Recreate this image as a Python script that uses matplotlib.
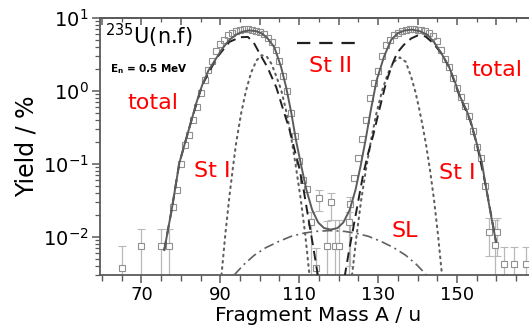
import matplotlib
matplotlib.use("Agg")
import matplotlib.pyplot as plt
from matplotlib.ticker import FixedLocator, MultipleLocator, LogLocator, NullFormatter
from matplotlib.lines import Line2D

# measured yields (mass A, yield in %)
data_mass = [78, 79, 80, 81, 82, 83, 84, 85, 86, 87, 88, 89, 90, 91, 92, 93, 94, 95,
             96, 97, 98, 99, 100, 101, 102, 103, 104, 105, 106, 107, 108, 109, 110,
             111, 112, 124, 125, 126, 127, 128, 129, 130, 131, 132, 133, 134, 135,
             136, 137, 138, 139, 140, 141, 142, 143, 144, 145, 146, 147, 148, 149,
             150, 151, 152, 153, 154, 155, 156, 157]
data_yield = [0.026, 0.044, 0.10, 0.18, 0.25, 0.40, 0.60, 0.95, 1.4, 1.95, 2.6, 3.5,
              4.4, 5.0, 5.8, 6.3, 6.6, 6.9, 7.0, 7.1, 6.9, 6.7, 6.4, 6.0, 5.4, 4.7,
              3.6, 2.6, 1.6, 1.0, 0.5, 0.24, 0.11, 0.06, 0.045, 0.065, 0.12, 0.22,
              0.40, 0.80, 1.3, 1.9, 3.0, 4.2, 5.0, 5.8, 6.3, 6.6, 6.8, 7.0, 7.0, 6.9,
              6.8, 6.6, 6.3, 5.6, 4.8, 3.6, 2.7, 2.1, 1.5, 1.1, 0.83, 0.62, 0.45,
              0.28, 0.17, 0.12, 0.05]

# low-yield points with their error bars (upper / lower bound in %)
low_mass = [65, 70, 75, 77, 113, 114.3, 115, 117, 118, 119, 120, 122.5, 123,
            158, 159.6, 160.2, 162, 164.5, 167.5]
low_yield = [0.0038, 0.0076, 0.0076, 0.0076, 0.016, 0.0038, 0.034, 0.0076, 0.030,
             0.0076, 0.0076, 0.016, 0.028, 0.0118, 0.0078, 0.0118, 0.0042, 0.0042,
             0.0042]
low_upper = [0.0076, 0.0129, 0.0129, 0.0129, 0.022, 0.007, 0.044, 0.0165, 0.040,
             0.017, 0.017, 0.022, 0.035, 0.018, 0.017, 0.018, 0.0072, 0.0072, 0.0072]
low_lower = [0.001, 0.001, 0.001, 0.001, 0.001, 0.001, 0.023, 0.001, 0.017,
             0.001, 0.001, 0.001, 0.004, 0.0054, 0.001, 0.0054, 0.001, 0.001, 0.001]

# fitted curves
total_mass = [75.8, 77.8, 79.6, 80.9, 82.7, 84, 85.4, 87, 89, 90.5, 92.3, 94, 95.5,
              97.3, 99, 100.5, 102, 103.7, 105.4, 106.7, 108, 109.2, 110.5, 111.8,
              113.3, 114.8, 116.3, 118, 119.7, 121.2, 122.8, 124.3, 125.6, 126.8,
              128.1, 129.6, 131.5, 133.3, 135, 136.8, 138.6, 140.5, 142.5, 144.3,
              146, 148, 149.5, 150.8, 152.3, 153.5, 155, 156.3, 157.3, 158.6, 159.9]
total_yield = [0.0066, 0.0257, 0.102, 0.182, 0.398, 0.708, 1.20, 1.91, 2.82, 3.80,
               5.01, 5.89, 6.46, 6.76, 6.61, 6.17, 5.25, 3.98, 2.14, 1.12, 0.50,
               0.209, 0.0955, 0.0447, 0.0234, 0.0158, 0.0132, 0.0126, 0.0132, 0.0158,
               0.0234, 0.0447, 0.0955, 0.209, 0.525, 1.38, 2.95, 5.01, 6.17, 6.76,
               6.92, 6.61, 5.89, 4.57, 3.31, 2.14, 1.32, 0.832, 0.562, 0.380, 0.191,
               0.105, 0.0501, 0.020, 0.0085]

st2_mass = [75.8, 77.8, 79.6, 82.7, 85.4, 89, 92.3, 95, 97, 98.5, 99.9, 101.9, 104.2,
            106.2, 107.5, 108.7, 110, 111.2, 112.5, 113.6, 114.8, None,
            121.5, 122.6, 123.8, 125, 126.2, 127.5, 128.7, 130.3, 132, 133.5, 134.8,
            136.5, 138.4, 140, 142, 144, 146, 148, 150.5, 153.3, 155, 157.3, 159.9]
st2_yield = [0.0066, 0.0257, 0.102, 0.398, 1.20, 2.80, 4.70, 5.45, 5.50, 4.57, 3.31,
             2.14, 1.12, 0.50, 0.302, 0.166, 0.089, 0.0417, 0.0158, 0.0071, 0.0028,
             None,
             0.0028, 0.0063, 0.0141, 0.0316, 0.0708, 0.141, 0.240, 0.55, 1.29, 2.24,
             3.31, 4.27, 5.25, 5.75, 5.60, 4.50, 3.30, 2.12, 0.90, 0.40, 0.19,
             0.0501, 0.0085]

st1_mass = [90.3, 91.3, 92.3, 93.2, 94, 95.3, 96.5, 97.8, 99.2, 100.5, 101.8, 103,
            104.2, 105.4, 106.6, 107.8, 109, 110.3, 111.5, 112.6, None,
            123.4, 124.5, 125.7, 127, 128.3, 129.6, 131, 132.5, 134, 135.5, 137,
            138.4, 139.5, 140.4, 141.3, 142.2, 143.2, 144.2, 145.2, 146.2]
st1_yield = [0.0030, 0.0112, 0.0355, 0.089, 0.191, 0.50, 1.0, 1.78, 2.63, 3.09, 2.95,
             2.34, 1.58, 1.05, 0.562, 0.263, 0.105, 0.0355, 0.0112, 0.0030, None,
             0.0030, 0.010, 0.0316, 0.089, 0.224, 0.50, 1.0, 1.74, 2.51, 2.88, 2.51,
             1.55, 0.955, 0.575, 0.331, 0.178, 0.0794, 0.0316, 0.0105, 0.0030]

sl_mass = [93.5, 96, 98.6, 101.5, 104.9, 108, 111, 114, 117.8, 121.5, 124.5, 127.5,
           130.7, 134, 137, 139.7, 142.3]
sl_yield = [0.0030, 0.0042, 0.0056, 0.0071, 0.0087, 0.0102, 0.0112, 0.0119, 0.0122,
            0.0119, 0.0112, 0.0102, 0.0087, 0.0071, 0.0056, 0.0042, 0.0030]

x_ticks = [70, 90, 110, 130, 150]

RED = "#ff0000"
AXIS_GREY = "#5a5a5a"


def to_float(seq):
    return [float("nan") if v is None else v for v in seq]


fig = plt.figure(figsize=(5.29, 3.33), dpi=100)
ax = fig.add_axes([0.189, 0.174, 0.824, 0.772])

# measured points
ax.errorbar(low_mass, low_yield,
            yerr=[[y - lo for y, lo in zip(low_yield, low_lower)],
                  [hi - y for y, hi in zip(low_yield, low_upper)]],
            fmt="s", ms=4.5, mfc="white", mec="#909090", mew=0.8,
            ecolor="#b8b8b8", elinewidth=0.9, capsize=3, capthick=0.8, zorder=2)
ax.plot(data_mass, data_yield, "s", ms=4.5, mfc="none", mec="#909090", mew=0.8, zorder=2)

# model components
ax.plot(sl_mass, sl_yield, color="#606060", lw=1.2, dashes=(6, 2.5, 1.2, 2.5), zorder=3)
ax.plot(st1_mass, to_float(st1_yield), color="#606060", lw=1.5, ls=(0, (0.8, 2.2)),
        dash_capstyle="round", zorder=3)
ax.plot(st2_mass, to_float(st2_yield), color="#202020", lw=1.4, dashes=(5, 3), zorder=3)
ax.plot(total_mass, total_yield, color="#5c5c5c", lw=1.4, zorder=4)

ax.set_yscale("log")
ax.set_xlim(59.5, 170)
ax.set_ylim(0.003, 10)

ax.xaxis.set_major_locator(FixedLocator(x_ticks))
ax.xaxis.set_minor_locator(MultipleLocator(5))
ax.yaxis.set_major_locator(LogLocator(base=10))
ax.yaxis.set_minor_locator(LogLocator(base=10, subs=range(2, 10)))
ax.yaxis.set_minor_formatter(NullFormatter())

ax.tick_params(axis="x", which="both", direction="out", colors=AXIS_GREY,
               labelcolor="black", labelsize=13, pad=2)
ax.tick_params(axis="x", which="major", length=6, width=1.1)
ax.tick_params(axis="x", which="minor", length=4, width=1.0)
ax.tick_params(axis="y", which="both", direction="out", colors=AXIS_GREY,
               labelcolor="black", labelsize=14, pad=2)
ax.tick_params(axis="y", which="major", length=6, width=1.1)
ax.tick_params(axis="y", which="minor", length=3.5, width=0.9)

# inward ticks along the top edge
top = ax.secondary_xaxis("top")
top.xaxis.set_major_locator(MultipleLocator(10))
top.xaxis.set_minor_locator(MultipleLocator(5))
top.tick_params(which="both", direction="in", colors=AXIS_GREY, labeltop=False)
top.tick_params(which="major", length=5, width=1.1)
top.tick_params(which="minor", length=3, width=0.9)
top.spines["top"].set_color(AXIS_GREY)
top.spines["top"].set_linewidth(1.3)

for side in ("left", "bottom", "top"):
    ax.spines[side].set_color(AXIS_GREY)
    ax.spines[side].set_linewidth(1.3)
ax.spines["right"].set_visible(False)

ax.set_xlabel("Fragment Mass A / u", fontsize=14.5, labelpad=1)
ax.set_ylabel("Yield / %", fontsize=17, labelpad=3)

# labels of the curves
ax.text(0.011, 0.930, r"$^{235}$U(n.f)", transform=ax.transAxes, fontsize=15,
        ha="left", va="center")
ax.text(0.023, 0.802, r"E$_\mathregular{n}$ = 0.5 MeV", transform=ax.transAxes,
        fontsize=7.5, fontweight="bold", ha="left", va="center")
for label, xa, ya in [("total", 0.122, 0.669), ("St I", 0.257, 0.405),
                      ("St II", 0.528, 0.813), ("total", 0.910, 0.798),
                      ("St I", 0.819, 0.397), ("SL", 0.700, 0.171)]:
    ax.text(xa, ya, label, transform=ax.transAxes, color=RED, fontsize=16,
            ha="center", va="center")

# dashed key for St II
ax.add_line(Line2D([0.452, 0.592], [0.903, 0.903], transform=ax.transAxes,
                   color="#202020", lw=1.6, dashes=(6, 4)))

fig.savefig("out.png", dpi=100)
